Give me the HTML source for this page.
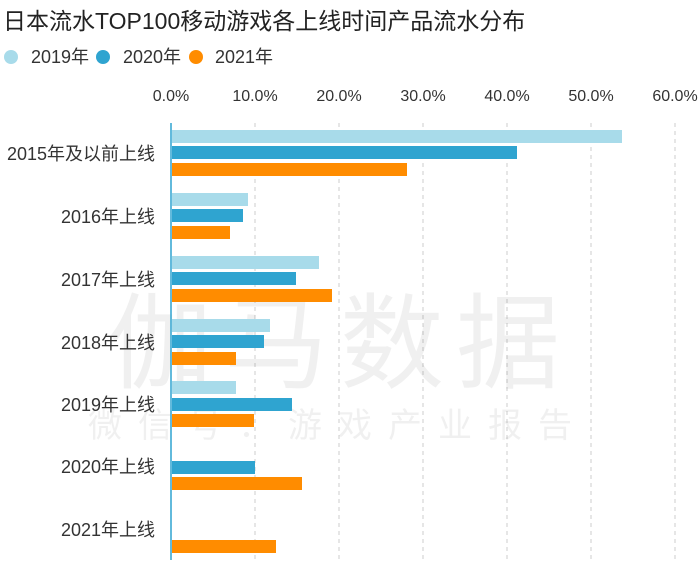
<!DOCTYPE html>
<html><head><meta charset="utf-8"><style>
body{margin:0;background:#fff;}
svg{display:block;font-family:"Liberation Sans","Noto Sans CJK SC",sans-serif;}
</style></head><body>
<svg width="700" height="578" xmlns="http://www.w3.org/2000/svg">
<text x="3" y="29" font-size="23" fill="#222">日本流水TOP100移动游戏各上线时间产品流水分布</text>
<circle cx="11" cy="57" r="7" fill="#a8dbea"/><text x="31" y="63" font-size="18" fill="#333">2019年</text>
<circle cx="103" cy="57" r="7" fill="#2fa4d0"/><text x="123" y="63" font-size="18" fill="#333">2020年</text>
<circle cx="196" cy="57" r="7" fill="#ff8c00"/><text x="215" y="63" font-size="18" fill="#333">2021年</text>
<g font-size="16" fill="#333" text-anchor="middle">
<text x="171" y="101">0.0%</text><text x="255" y="101">10.0%</text><text x="339" y="101">20.0%</text><text x="423" y="101">30.0%</text><text x="507" y="101">40.0%</text><text x="591" y="101">50.0%</text><text x="675" y="101">60.0%</text>
</g>
<g stroke="#ccc" stroke-dasharray="4,4">
<line x1="255" y1="123" x2="255" y2="560"/><line x1="339" y1="123" x2="339" y2="560"/><line x1="423" y1="123" x2="423" y2="560"/><line x1="507" y1="123" x2="507" y2="560"/><line x1="591" y1="123" x2="591" y2="560"/><line x1="675" y1="123" x2="675" y2="560"/>
</g>
<text x="340" y="380" font-size="104" fill="#000" fill-opacity="0.06" text-anchor="middle" letter-spacing="12">伽马数据</text>
<text x="338" y="437" font-size="34" fill="#000" fill-opacity="0.06" text-anchor="middle" letter-spacing="16">微信号：游戏产业报告</text>
<g fill="#a8dbea">
<rect x="172" y="130" width="450" height="13"/><rect x="172" y="193" width="76" height="13"/><rect x="172" y="256" width="147" height="13"/><rect x="172" y="319" width="98" height="13"/><rect x="172" y="381" width="64" height="13"/>
</g>
<g fill="#2fa4d0">
<rect x="172" y="146" width="345" height="13"/><rect x="172" y="209" width="71" height="13"/><rect x="172" y="272" width="124" height="13"/><rect x="172" y="335" width="92" height="13"/><rect x="172" y="398" width="120" height="13"/><rect x="172" y="461" width="83" height="13"/>
</g>
<g fill="#ff8c00">
<rect x="172" y="163" width="235" height="13"/><rect x="172" y="226" width="58" height="13"/><rect x="172" y="289" width="160" height="13"/><rect x="172" y="352" width="64" height="13"/><rect x="172" y="414" width="82" height="13"/><rect x="172" y="477" width="130" height="13"/><rect x="172" y="540" width="104" height="13"/>
</g>
<line x1="171" y1="123" x2="171" y2="560" stroke="#2fa4d0" stroke-width="1.5"/>
<g font-size="18" fill="#333" text-anchor="end">
<text x="155" y="160">2015年及以前上线</text><text x="155" y="223">2016年上线</text><text x="155" y="286">2017年上线</text><text x="155" y="349">2018年上线</text><text x="155" y="411">2019年上线</text><text x="155" y="473">2020年上线</text><text x="155" y="536">2021年上线</text>
</g>
</svg>
</body></html>
